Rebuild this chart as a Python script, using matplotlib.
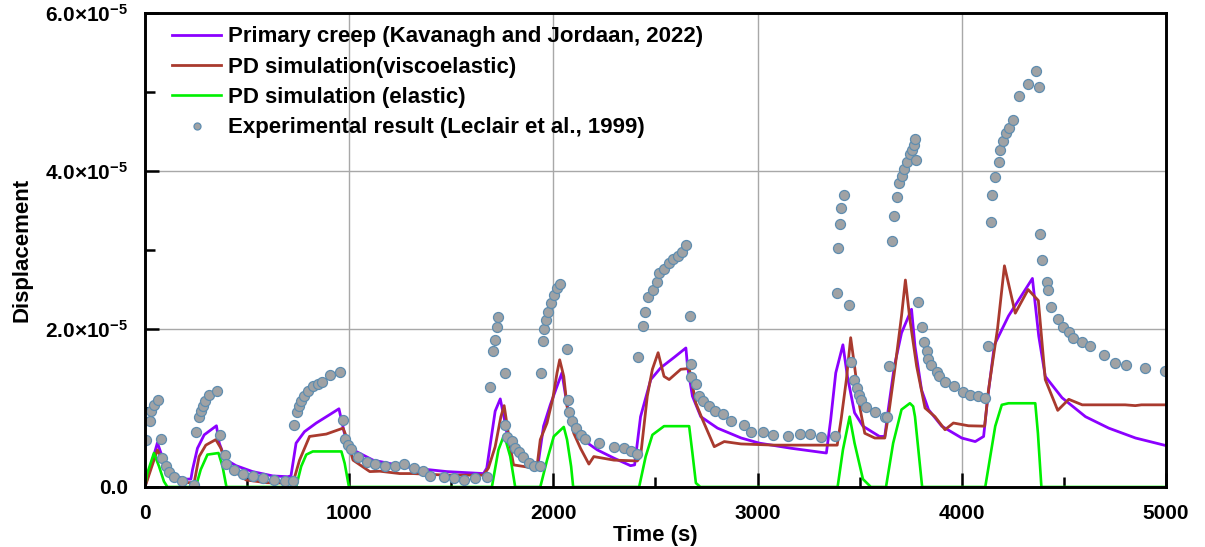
import matplotlib
matplotlib.use('Agg')
import matplotlib.pyplot as plt
from matplotlib.ticker import MultipleLocator, FuncFormatter
import numpy as np

plt.rcParams['font.family'] = ['Liberation Sans', 'DejaVu Sans']
plt.rcParams['font.weight'] = 'bold'
plt.rcParams['mathtext.fontset'] = 'custom'
plt.rcParams['mathtext.rm'] = 'Liberation Sans:bold'
plt.rcParams['mathtext.bf'] = 'Liberation Sans:bold'
plt.rcParams['mathtext.it'] = 'Liberation Sans:bold'

SCALE = 1e-5

# Experimental result (Leclair et al., 1999)  -- values in units of 1e-5
exp_t = [6, 25, 28, 44, 65, 77, 85, 102, 118, 143, 183, 241,
         252, 265, 273, 282, 295, 314, 352, 369, 390, 396, 437, 478, 531, 580, 634, 686, 727,
         732, 744, 753, 765, 778, 798, 822, 847, 868, 904, 953,
         970, 978, 994, 1011, 1043, 1085, 1125, 1174, 1226, 1269, 1318, 1363, 1396, 1466, 1513, 1563, 1617, 1677,
         1690, 1705, 1712, 1722, 1730, 1762, 1765, 1772, 1797, 1813, 1830, 1851, 1879, 1903, 1936,
         1939, 1947, 1955, 1965, 1975, 1990, 2005, 2020, 2032,
         2067, 2070, 2079, 2092, 2113, 2133, 2157, 2223, 2297, 2346, 2378, 2411,
         2413, 2441, 2447, 2464, 2490, 2509, 2517, 2540, 2565, 2585, 2610, 2630, 2649,
         2670, 2673, 2676, 2698, 2714, 2735, 2763, 2791, 2829, 2870, 2935, 2968, 3025, 3075, 3148, 3210, 3255, 3312, 3377,
         3391, 3395, 3405, 3410, 3423, 3448, 3459, 3472, 3488, 3495, 3509, 3533, 3574, 3623, 3636,
         3643, 3659, 3669, 3681, 3692, 3705, 3718, 3732, 3745, 3755, 3765, 3772, 3778,
         3784, 3803, 3817, 3829, 3836, 3849, 3877, 3889, 3918, 3964, 4008, 4041, 4079, 4112,
         4128, 4144, 4150, 4164, 4182, 4188, 4200, 4216, 4232, 4250, 4278, 4322, 4364, 4380,
         4385, 4393, 4415, 4420, 4437, 4472, 4495, 4524, 4545, 4590, 4626, 4696, 4749, 4803, 4898, 4993]
exp_y = [0.60, 0.84, 0.96, 1.04, 1.10, 0.61, 0.365, 0.27, 0.195, 0.13, 0.07, 0.03,
         0.69, 0.89, 0.96, 1.02, 1.085, 1.17, 1.22, 0.66, 0.41, 0.29, 0.216, 0.165, 0.14, 0.12, 0.089, 0.08, 0.08,
         0.79, 0.945, 1.02, 1.085, 1.157, 1.21, 1.275, 1.31, 1.33, 1.42, 1.45,
         0.85, 0.61, 0.53, 0.48, 0.38, 0.32, 0.29, 0.27, 0.27, 0.29, 0.24, 0.20, 0.14, 0.13, 0.11, 0.09, 0.12, 0.13,
         1.27, 1.72, 1.86, 2.03, 2.15, 1.445, 0.79, 0.63, 0.58, 0.49, 0.44, 0.385, 0.30, 0.27, 0.27,
         1.44, 1.85, 2.0, 2.12, 2.22, 2.33, 2.43, 2.52, 2.57,
         1.75, 1.10, 0.945, 0.84, 0.745, 0.66, 0.61, 0.56, 0.51, 0.49, 0.46, 0.415,
         1.65, 2.04, 2.22, 2.41, 2.50, 2.59, 2.71, 2.76, 2.83, 2.88, 2.93, 2.98, 3.06,
         2.165, 1.56, 1.39, 1.30, 1.157, 1.085, 1.02, 0.96, 0.93, 0.83, 0.79, 0.70, 0.70, 0.66, 0.65, 0.67, 0.67, 0.63, 0.64,
         2.45, 3.03, 3.33, 3.53, 3.69, 2.30, 1.58, 1.36, 1.25, 1.17, 1.10, 1.01, 0.95, 0.89, 0.89,
         1.53, 3.11, 3.43, 3.67, 3.85, 3.94, 4.03, 4.12, 4.21, 4.27, 4.33, 4.40, 4.14,
         2.34, 2.03, 1.84, 1.72, 1.62, 1.54, 1.45, 1.41, 1.33, 1.275, 1.20, 1.17, 1.15, 1.13,
         1.78, 3.36, 3.69, 3.93, 4.12, 4.27, 4.38, 4.475, 4.55, 4.64, 4.95, 5.10, 5.27, 5.06,
         3.20, 2.87, 2.60, 2.49, 2.28, 2.13, 2.03, 1.96, 1.89, 1.835, 1.78, 1.67, 1.57, 1.55, 1.51, 1.47]

# Primary creep (Kavanagh and Jordaan, 2022)
creep_t = [0, 61, 93, 134, 200, 225, 233, 257, 290, 350, 364, 393, 446, 527, 626, 699, 715,
           740, 781, 839, 904, 950, 962, 986, 1019, 1117, 1232, 1313, 1478, 1658, 1674, 1715, 1740,
           1764, 1780, 1821, 1870, 1919, 1928, 1952, 1985, 2018, 2042, 2067, 2092, 2133, 2215, 2297,
           2378, 2398, 2427, 2477, 2526, 2591, 2649, 2657, 2681, 2722, 2804, 2920, 3009, 3165, 3337,
           3358, 3383, 3418, 3440, 3475, 3516, 3597, 3623, 3640, 3670, 3705, 3754, 3771, 3803, 3837,
           3902, 4000, 4066, 4107, 4128, 4160, 4229, 4346, 4377, 4409, 4491, 4606, 4720, 4851, 4991]
creep_y = [0.0, 0.56, 0.32, 0.15, 0.10, 0.10, 0.22, 0.49, 0.66, 0.775, 0.555, 0.35, 0.27, 0.195, 0.14, 0.13, 0.14,
           0.555, 0.70, 0.81, 0.915, 0.99, 0.85, 0.575, 0.47, 0.34, 0.28, 0.24, 0.195, 0.17, 0.24, 0.96, 1.115,
           0.81, 0.555, 0.41, 0.31, 0.26, 0.34, 0.77, 1.04, 1.275, 1.445, 1.04, 0.81, 0.62, 0.47, 0.365,
           0.27, 0.28, 0.89, 1.36, 1.51, 1.64, 1.76, 1.53, 1.15, 0.89, 0.745, 0.62, 0.555, 0.49, 0.43,
           0.85, 1.445, 1.80, 1.40, 0.94, 0.77, 0.64, 0.64, 0.98, 1.53, 1.95, 2.25, 1.78, 1.23, 0.98,
           0.77, 0.62, 0.575, 0.64, 1.15, 1.80, 2.165, 2.64, 1.91, 1.40, 1.13, 0.89, 0.745, 0.62, 0.53]

# PD simulation (viscoelastic)
visco_t = [0, 61, 85, 134, 183, 241, 265, 298, 347, 372, 396, 429, 495, 593, 724,
           757, 806, 888, 970, 983, 1019, 1101, 1150, 1248, 1313, 1478, 1658, 1682, 1715, 1743, 1759,
           1772, 1789, 1805, 1854, 1903, 1920, 1936, 1969, 1998, 2018, 2031, 2051, 2067, 2100, 2133,
           2174, 2198, 2297, 2411, 2427, 2460, 2485, 2513, 2542, 2567, 2624, 2665, 2673, 2698, 2731,
           2788, 2837, 2919, 3083, 3390, 3410, 3435, 3456, 3475, 3500, 3525, 3574, 3623, 3643, 3672,
           3705, 3724, 3746, 3779, 3820, 3869, 3918, 3959, 4033, 4112, 4131, 4175, 4209, 4262, 4325,
           4375, 4409, 4470, 4524, 4590, 4800, 4850, 4880, 5000]
visco_y = [0.0, 0.47, 0.34, 0.13, 0.055, 0.055, 0.385, 0.53, 0.60, 0.49, 0.30, 0.216, 0.089, 0.055, 0.047,
           0.34, 0.64, 0.67, 0.745, 0.66, 0.34, 0.195, 0.20, 0.17, 0.17, 0.15, 0.15, 0.24, 0.51, 0.89, 1.03,
           0.81, 0.51, 0.28, 0.26, 0.24, 0.26, 0.60, 0.81, 1.13, 1.445, 1.61, 1.40, 1.02, 0.68, 0.49,
           0.29, 0.385, 0.34, 0.33, 0.385, 1.15, 1.49, 1.70, 1.40, 1.36, 1.49, 1.50, 1.40, 1.06, 0.85,
           0.51, 0.575, 0.545, 0.53, 0.53, 0.87, 1.36, 1.89, 1.53, 1.02, 0.68, 0.62, 0.62, 0.94, 1.49,
           2.165, 2.62, 2.12, 1.53, 1.00, 0.89, 0.725, 0.81, 0.775, 0.77, 1.23, 2.00, 2.80, 2.20, 2.50,
           2.36, 1.36, 0.97, 1.11, 1.04, 1.04, 1.03, 1.04, 1.04]

# PD simulation (elastic)
elastic_t = [0, 11, 44, 69, 93, 110, 249, 273, 306, 360, 380, 399, 740, 765, 790, 822, 962, 978, 999,
             1699, 1731, 1759, 1789, 1813, 1936, 1969, 2002, 2051, 2067, 2087, 2097,
             2420, 2452, 2485, 2542, 2665, 2681, 2698, 2720, 3392, 3418, 3451, 3475, 3516, 3555,
             3629, 3664, 3705, 3746, 3762, 3771, 3806, 4115, 4164, 4196, 4229, 4360, 4373, 4390, 5000]
elastic_y = [0.0, 0.17, 0.43, 0.26, 0.07, 0.0, 0.0, 0.22, 0.41, 0.43, 0.26, 0.0, 0.0, 0.26, 0.41, 0.45, 0.45, 0.30, 0.0,
             0.0, 0.47, 0.66, 0.385, 0.0, 0.0, 0.34, 0.64, 0.76, 0.60, 0.26, 0.0,
             0.0, 0.385, 0.66, 0.77, 0.77, 0.43, 0.05, 0.0, 0.0, 0.47, 0.89, 0.555, 0.10, 0.0,
             0.0, 0.555, 0.98, 1.06, 1.02, 0.89, 0.0, 0.0, 0.77, 1.04, 1.06, 1.06, 0.68, 0.0, 0.0]

labels = ['Primary creep (Kavanagh and Jordaan, 2022)',
          'PD simulation(viscoelastic)',
          'PD simulation (elastic)',
          'Experimental result (Leclair et al., 1999)']

fig = plt.figure(figsize=(12.05, 5.47), dpi=100)
ax = fig.add_axes([0.1203, 0.1097, 0.8473, 0.8665])

s = lambda v: np.asarray(v) * SCALE

ax.plot(creep_t, s(creep_y), color='#8B00FF', lw=2.0, label=labels[0], zorder=3)
ax.plot(visco_t, s(visco_y), color='#A93A2E', lw=2.0, label=labels[1], zorder=3)
ax.plot(elastic_t, s(elastic_y), color='#00F000', lw=1.9, label=labels[2], zorder=3)
ax.plot(exp_t, s(exp_y), ls='none', marker='o', ms=7.2, mfc='#A0A2A4', mec='#5E8DB0',
        mew=0.9, label=labels[3], zorder=4)

ax.set_xlim(0, 5000)
ax.set_ylim(0, 6e-5)
ax.xaxis.set_major_locator(MultipleLocator(1000))
ax.xaxis.set_minor_locator(MultipleLocator(500))
ax.yaxis.set_major_locator(MultipleLocator(2e-5))
ax.yaxis.set_minor_locator(MultipleLocator(1e-5))


def yfmt(v, pos):
    if abs(v) < 1e-12:
        return '0.0'
    return r'$\mathbf{%.1f{\times}10^{-5}}$' % (v / SCALE)


ax.yaxis.set_major_formatter(FuncFormatter(yfmt))
ax.grid(True, which='major', color='#A8A8A8', lw=1.0, zorder=0)
ax.set_axisbelow(True)

for sp in ax.spines.values():
    sp.set_linewidth(2.1)
    sp.set_color('black')
    sp.set_zorder(5)

ax.tick_params(axis='both', which='major', direction='in', length=10, width=1.8,
               labelsize=15, top=False, right=False)
ax.tick_params(axis='both', which='minor', direction='in', length=7, width=1.8,
               top=False, right=False)
ax.tick_params(axis='x', which='major', pad=12)
ax.tick_params(axis='y', which='major', pad=12)
for lab in ax.get_xticklabels() + ax.get_yticklabels():
    lab.set_fontweight('bold')

ax.set_xlabel('Time (s)', fontsize=16, fontweight='bold', labelpad=2)
ax.set_ylabel('Displacement', fontsize=16, fontweight='bold', labelpad=9)

leg = ax.legend(loc='upper left', bbox_to_anchor=(0.016, 0.995), frameon=False,
                prop={'weight': 'bold', 'size': 16}, handlelength=2.2, handletextpad=0.3,
                labelspacing=0.42, borderpad=0.0, markerscale=0.7)

fig.savefig('out.png', dpi=100)
